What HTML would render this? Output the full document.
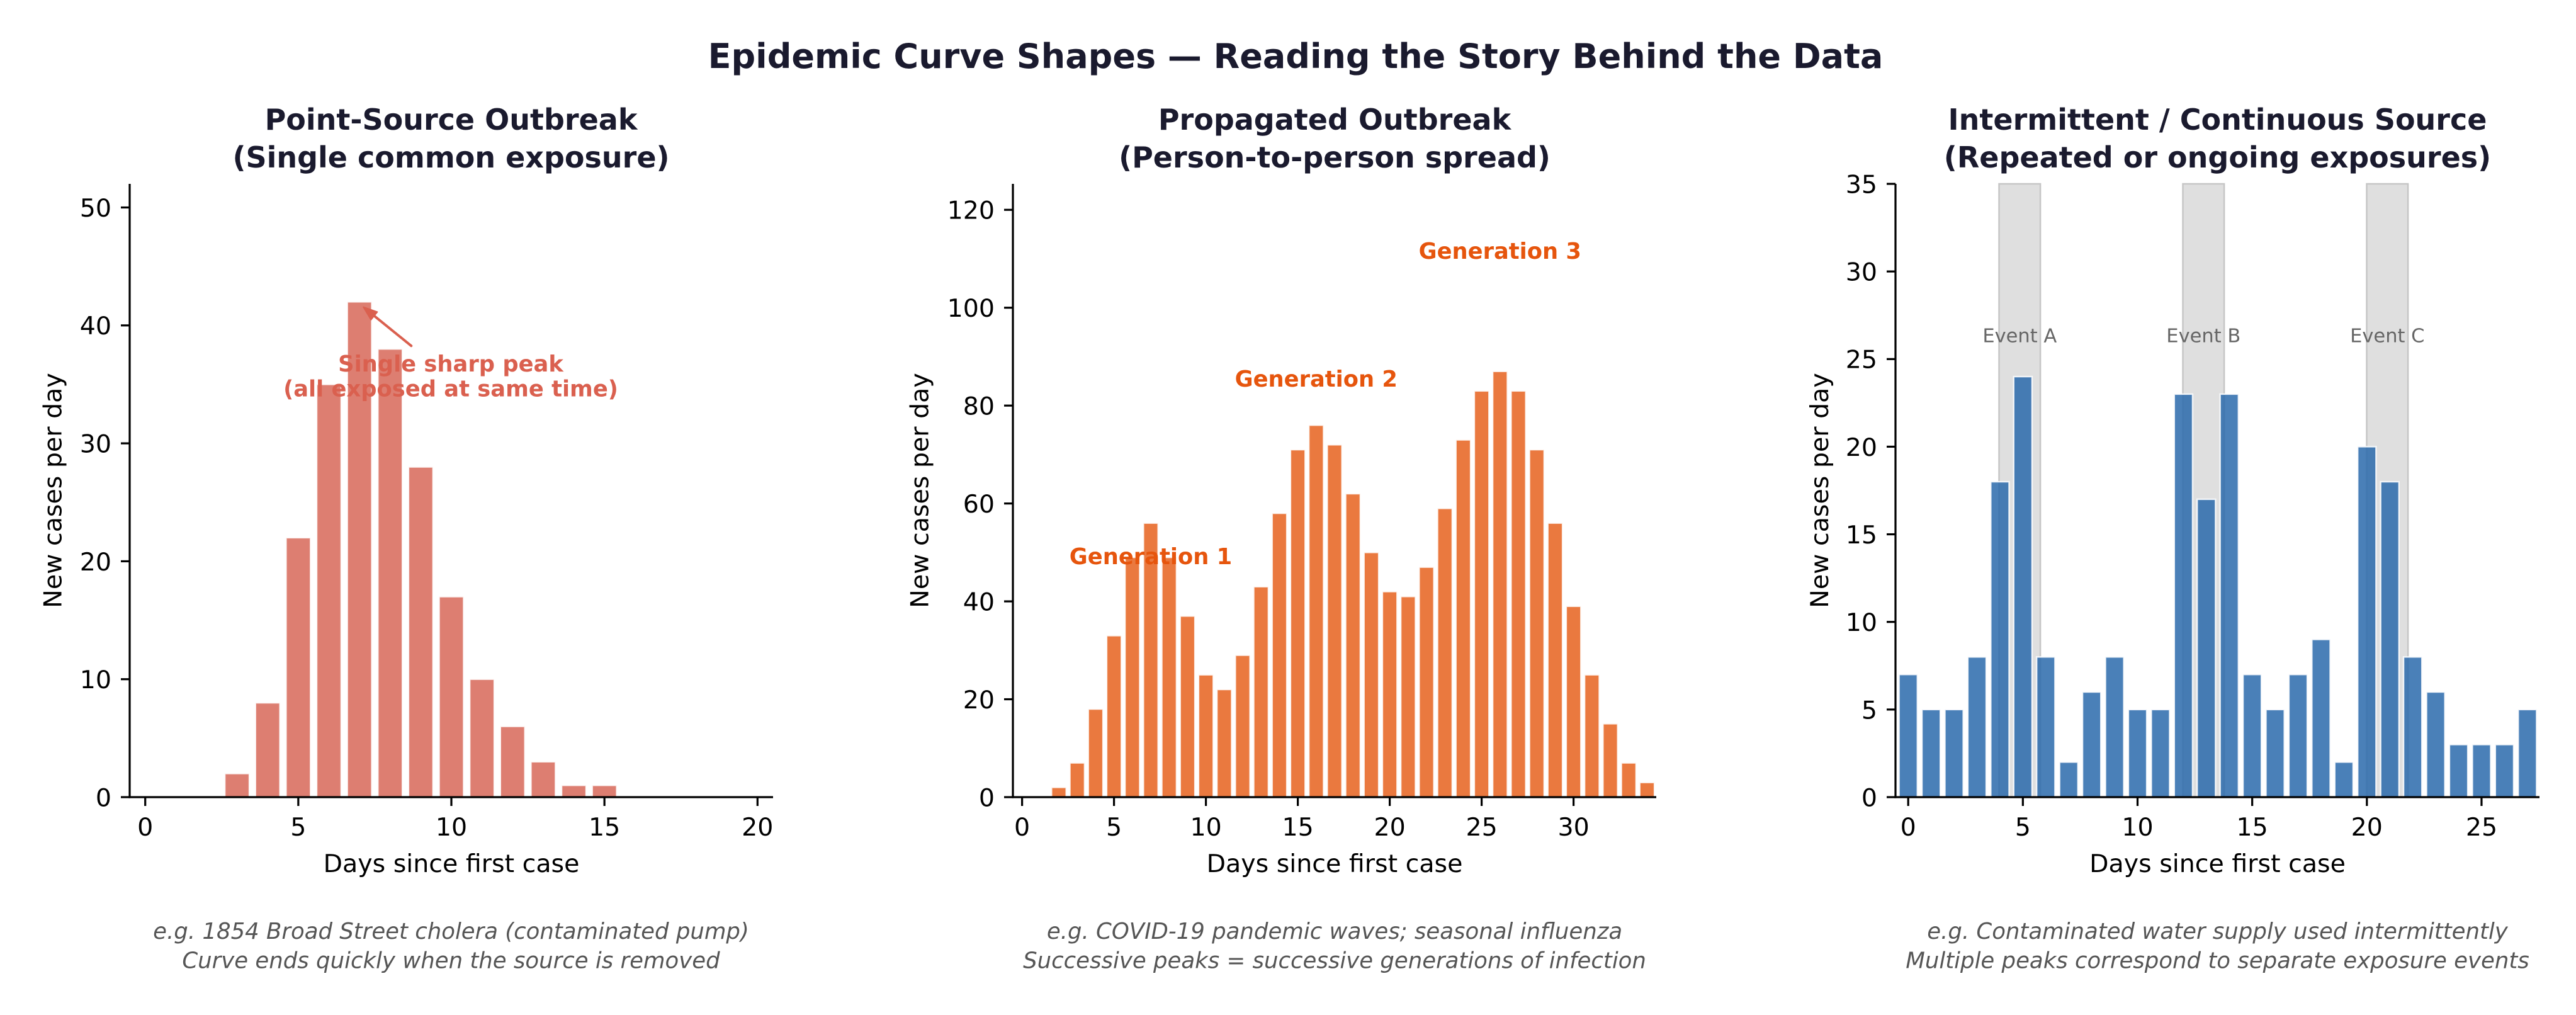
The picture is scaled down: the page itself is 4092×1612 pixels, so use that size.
<!DOCTYPE html>
<html>
<head>
<meta charset="utf-8">
<style>
  html, body { margin: 0; padding: 0; background: #ffffff; }
  svg { display: block; }
  text { font-family: "DejaVu Sans", "Liberation Sans", sans-serif; }
  .tick { font-size: 39.5px; fill: #000; }
  .lab { font-size: 39.5px; fill: #000; }
  .ptitle { font-size: 46px; font-weight: bold; fill: #1a1a2e; }
  .foot { font-size: 35.5px; font-style: italic; fill: #555555; }
  .ann { font-size: 35.3px; font-weight: bold; }
  .ev { font-size: 30.5px; fill: #666666; }
</style>
</head>
<body>
<svg width="4092" height="1612" viewBox="0 0 4092 1612" xmlns="http://www.w3.org/2000/svg">
  <rect x="0" y="0" width="4092" height="1612" fill="#ffffff"/>

  <!-- Main title -->
  <text x="2058" y="108" text-anchor="middle" font-size="54" font-weight="bold" fill="#1a1a2e">Epidemic Curve Shapes — Reading the Story Behind the Data</text>

  <!-- ================= Panel 1 ================= -->
  <text class="ptitle" x="716.5" y="206" text-anchor="middle">Point-Source Outbreak</text>
  <text class="ptitle" x="716.5" y="266" text-anchor="middle">(Single common exposure)</text>

  <g fill="#dd7e71" stroke="#ffffff" stroke-width="2.4" stroke-opacity="0.85">
    <rect x="357.14" y="1228.54" width="38.9" height="37.46"/>
    <rect x="405.77" y="1116.16" width="38.9" height="149.84"/>
    <rect x="454.40" y="853.94" width="38.9" height="412.06"/>
    <rect x="503.03" y="610.45" width="38.9" height="655.55"/>
    <rect x="551.66" y="479.34" width="38.9" height="786.66"/>
    <rect x="600.29" y="554.26" width="38.9" height="711.74"/>
    <rect x="648.92" y="741.56" width="38.9" height="524.44"/>
    <rect x="697.55" y="947.59" width="38.9" height="318.41"/>
    <rect x="746.18" y="1078.70" width="38.9" height="187.30"/>
    <rect x="794.81" y="1153.62" width="38.9" height="112.38"/>
    <rect x="843.44" y="1209.81" width="38.9" height="56.19"/>
    <rect x="892.07" y="1247.27" width="38.9" height="18.73"/>
    <rect x="940.70" y="1247.27" width="38.9" height="18.73"/>
  </g>

  <!-- annotation arrow -->
  <line x1="653.3" y1="549.3" x2="594.4" y2="501.6" stroke="#da604f" stroke-width="4" stroke-linecap="round"/>
  <polygon points="577.3,487.7 599.4,495.4 589.4,507.8" fill="#da604f" stroke="#da604f" stroke-width="2" stroke-linejoin="round"/>
  <text class="ann" x="716" y="590" text-anchor="middle" fill="#da604f">Single sharp peak</text>
  <text class="ann" x="716" y="629.5" text-anchor="middle" fill="#da604f">(all exposed at same time)</text>

  <!-- axes -->
  <g stroke="#000" stroke-width="3.2" fill="none">
    <line x1="206" y1="292" x2="206" y2="1267.6"/>
    <line x1="204.4" y1="1266" x2="1228" y2="1266"/>
    <!-- y ticks -->
    <line x1="192" y1="1266" x2="206" y2="1266"/>
    <line x1="192" y1="1078.7" x2="206" y2="1078.7"/>
    <line x1="192" y1="891.4" x2="206" y2="891.4"/>
    <line x1="192" y1="704.1" x2="206" y2="704.1"/>
    <line x1="192" y1="516.8" x2="206" y2="516.8"/>
    <line x1="192" y1="329.5" x2="206" y2="329.5"/>
    <!-- x ticks -->
    <line x1="230.7" y1="1266" x2="230.7" y2="1280"/>
    <line x1="473.85" y1="1266" x2="473.85" y2="1280"/>
    <line x1="717" y1="1266" x2="717" y2="1280"/>
    <line x1="960.15" y1="1266" x2="960.15" y2="1280"/>
    <line x1="1203.3" y1="1266" x2="1203.3" y2="1280"/>
  </g>
  <g class="tick" text-anchor="end">
    <text x="177" y="1280.4">0</text>
    <text x="177" y="1093.1">10</text>
    <text x="177" y="905.8">20</text>
    <text x="177" y="718.5">30</text>
    <text x="177" y="531.2">40</text>
    <text x="177" y="343.9">50</text>
  </g>
  <g class="tick" text-anchor="middle">
    <text x="230.7" y="1327">0</text>
    <text x="473.85" y="1327">5</text>
    <text x="717" y="1327">10</text>
    <text x="960.15" y="1327">15</text>
    <text x="1203.3" y="1327">20</text>
  </g>
  <text class="lab" x="717" y="1385" text-anchor="middle">Days since first case</text>
  <text class="lab" transform="translate(97.5,779) rotate(-90)" text-anchor="middle">New cases per day</text>

  <text class="foot" x="716.5" y="1491" text-anchor="middle">e.g. 1854 Broad Street cholera (contaminated pump)</text>
  <text class="foot" x="716.5" y="1537.5" text-anchor="middle">Curve ends quickly when the source is removed</text>

  <!-- ================= Panel 2 ================= -->
  <text class="ptitle" x="2120" y="206" text-anchor="middle">Propagated Outbreak</text>
  <text class="ptitle" x="2120" y="266" text-anchor="middle">(Person-to-person spread)</text>

  <g fill="#ea793f" stroke="#ffffff" stroke-width="2.4" stroke-opacity="0.85">
    <rect x="1670.32" y="1250.45" width="23.36" height="15.55"/>
    <rect x="1699.52" y="1211.59" width="23.36" height="54.41"/>
    <rect x="1728.72" y="1126.09" width="23.36" height="139.91"/>
    <rect x="1757.92" y="1009.49" width="23.36" height="256.51"/>
    <rect x="1787.12" y="885.12" width="23.36" height="380.88"/>
    <rect x="1816.32" y="830.71" width="23.36" height="435.29"/>
    <rect x="1845.52" y="885.12" width="23.36" height="380.88"/>
    <rect x="1874.72" y="978.40" width="23.36" height="287.60"/>
    <rect x="1903.92" y="1071.67" width="23.36" height="194.33"/>
    <rect x="1933.12" y="1094.99" width="23.36" height="171.01"/>
    <rect x="1962.32" y="1040.58" width="23.36" height="225.42"/>
    <rect x="1991.52" y="931.76" width="23.36" height="334.24"/>
    <rect x="2020.72" y="815.17" width="23.36" height="450.83"/>
    <rect x="2049.92" y="714.12" width="23.36" height="551.88"/>
    <rect x="2079.12" y="675.25" width="23.36" height="590.75"/>
    <rect x="2108.32" y="706.34" width="23.36" height="559.66"/>
    <rect x="2137.52" y="784.07" width="23.36" height="481.93"/>
    <rect x="2166.72" y="877.35" width="23.36" height="388.65"/>
    <rect x="2195.92" y="939.53" width="23.36" height="326.47"/>
    <rect x="2225.12" y="947.31" width="23.36" height="318.69"/>
    <rect x="2254.32" y="900.67" width="23.36" height="365.33"/>
    <rect x="2283.52" y="807.39" width="23.36" height="458.61"/>
    <rect x="2312.72" y="698.57" width="23.36" height="567.43"/>
    <rect x="2341.92" y="620.84" width="23.36" height="645.16"/>
    <rect x="2371.12" y="589.75" width="23.36" height="676.25"/>
    <rect x="2400.32" y="620.84" width="23.36" height="645.16"/>
    <rect x="2429.52" y="714.12" width="23.36" height="551.88"/>
    <rect x="2458.72" y="830.71" width="23.36" height="435.29"/>
    <rect x="2487.92" y="962.85" width="23.36" height="303.15"/>
    <rect x="2517.12" y="1071.67" width="23.36" height="194.33"/>
    <rect x="2546.32" y="1149.40" width="23.36" height="116.60"/>
    <rect x="2575.52" y="1211.59" width="23.36" height="54.41"/>
    <rect x="2604.72" y="1242.68" width="23.36" height="23.32"/>
  </g>

  <g class="ann" fill="#e6550d" text-anchor="middle">
    <text x="1828" y="896">Generation 1</text>
    <text x="2090.8" y="614">Generation 2</text>
    <text x="2382.8" y="411">Generation 3</text>
  </g>

  <g stroke="#000" stroke-width="3.2" fill="none">
    <line x1="1609" y1="292" x2="1609" y2="1267.6"/>
    <line x1="1607.4" y1="1266" x2="2631" y2="1266"/>
    <line x1="1595" y1="1266" x2="1609" y2="1266"/>
    <line x1="1595" y1="1110.54" x2="1609" y2="1110.54"/>
    <line x1="1595" y1="955.08" x2="1609" y2="955.08"/>
    <line x1="1595" y1="799.62" x2="1609" y2="799.62"/>
    <line x1="1595" y1="644.16" x2="1609" y2="644.16"/>
    <line x1="1595" y1="488.7" x2="1609" y2="488.7"/>
    <line x1="1595" y1="333.24" x2="1609" y2="333.24"/>
    <line x1="1623.6" y1="1266" x2="1623.6" y2="1280"/>
    <line x1="1769.6" y1="1266" x2="1769.6" y2="1280"/>
    <line x1="1915.6" y1="1266" x2="1915.6" y2="1280"/>
    <line x1="2061.6" y1="1266" x2="2061.6" y2="1280"/>
    <line x1="2207.6" y1="1266" x2="2207.6" y2="1280"/>
    <line x1="2353.6" y1="1266" x2="2353.6" y2="1280"/>
    <line x1="2499.6" y1="1266" x2="2499.6" y2="1280"/>
  </g>
  <g class="tick" text-anchor="end">
    <text x="1580" y="1280.4">0</text>
    <text x="1580" y="1124.94">20</text>
    <text x="1580" y="969.48">40</text>
    <text x="1580" y="814.02">60</text>
    <text x="1580" y="658.56">80</text>
    <text x="1580" y="503.1">100</text>
    <text x="1580" y="347.64">120</text>
  </g>
  <g class="tick" text-anchor="middle">
    <text x="1623.6" y="1327">0</text>
    <text x="1769.6" y="1327">5</text>
    <text x="1915.6" y="1327">10</text>
    <text x="2061.6" y="1327">15</text>
    <text x="2207.6" y="1327">20</text>
    <text x="2353.6" y="1327">25</text>
    <text x="2499.6" y="1327">30</text>
  </g>
  <text class="lab" x="2120" y="1385" text-anchor="middle">Days since first case</text>
  <text class="lab" transform="translate(1474.5,779) rotate(-90)" text-anchor="middle">New cases per day</text>

  <text class="foot" x="2120" y="1491" text-anchor="middle">e.g. COVID-19 pandemic waves; seasonal influenza</text>
  <text class="foot" x="2120" y="1537.5" text-anchor="middle">Successive peaks = successive generations of infection</text>

  <!-- ================= Panel 3 ================= -->
  <text class="ptitle" x="3522.5" y="206" text-anchor="middle">Intermittent / Continuous Source</text>
  <text class="ptitle" x="3522.5" y="266" text-anchor="middle">(Repeated or ongoing exposures)</text>

  <!-- exposure spans -->
  <g fill="#dfdfdf" stroke="#c6c6c6" stroke-width="2.5">
    <rect x="3175.5" y="292" width="65.6" height="974"/>
    <rect x="3467.5" y="292" width="65.6" height="974"/>
    <rect x="3759.5" y="292" width="65.6" height="974"/>
  </g>
  <g class="ev" text-anchor="middle">
    <text x="3208.3" y="543.3">Event A</text>
    <text x="3500.3" y="543.3">Event B</text>
    <text x="3792.3" y="543.3">Event C</text>
  </g>

  <g fill="#2a6aab" fill-opacity="0.85" stroke="#ffffff" stroke-width="2.4" stroke-opacity="0.85">
    <rect x="3016.63" y="1071.20" width="29.14" height="194.80"/>
    <rect x="3053.06" y="1126.86" width="29.14" height="139.14"/>
    <rect x="3089.49" y="1126.86" width="29.14" height="139.14"/>
    <rect x="3125.92" y="1043.37" width="29.14" height="222.63"/>
    <rect x="3162.35" y="765.08" width="29.14" height="500.92"/>
    <rect x="3198.78" y="598.11" width="29.14" height="667.89"/>
    <rect x="3235.21" y="1043.37" width="29.14" height="222.63"/>
    <rect x="3271.64" y="1210.34" width="29.14" height="55.66"/>
    <rect x="3308.07" y="1099.03" width="29.14" height="166.97"/>
    <rect x="3344.50" y="1043.37" width="29.14" height="222.63"/>
    <rect x="3380.93" y="1126.86" width="29.14" height="139.14"/>
    <rect x="3417.36" y="1126.86" width="29.14" height="139.14"/>
    <rect x="3453.79" y="625.94" width="29.14" height="640.06"/>
    <rect x="3490.22" y="792.91" width="29.14" height="473.09"/>
    <rect x="3526.65" y="625.94" width="29.14" height="640.06"/>
    <rect x="3563.08" y="1071.20" width="29.14" height="194.80"/>
    <rect x="3599.51" y="1126.86" width="29.14" height="139.14"/>
    <rect x="3635.94" y="1071.20" width="29.14" height="194.80"/>
    <rect x="3672.37" y="1015.54" width="29.14" height="250.46"/>
    <rect x="3708.80" y="1210.34" width="29.14" height="55.66"/>
    <rect x="3745.23" y="709.43" width="29.14" height="556.57"/>
    <rect x="3781.66" y="765.08" width="29.14" height="500.92"/>
    <rect x="3818.09" y="1043.37" width="29.14" height="222.63"/>
    <rect x="3854.52" y="1099.03" width="29.14" height="166.97"/>
    <rect x="3890.95" y="1182.51" width="29.14" height="83.49"/>
    <rect x="3927.38" y="1182.51" width="29.14" height="83.49"/>
    <rect x="3963.81" y="1182.51" width="29.14" height="83.49"/>
    <rect x="4000.24" y="1126.86" width="29.14" height="139.14"/>
  </g>

  <g stroke="#000" stroke-width="3.2" fill="none">
    <line x1="3011" y1="292" x2="3011" y2="1267.6"/>
    <line x1="3009.4" y1="1266" x2="4034" y2="1266"/>
    <line x1="2997" y1="1266" x2="3011" y2="1266"/>
    <line x1="2997" y1="1126.86" x2="3011" y2="1126.86"/>
    <line x1="2997" y1="987.71" x2="3011" y2="987.71"/>
    <line x1="2997" y1="848.57" x2="3011" y2="848.57"/>
    <line x1="2997" y1="709.43" x2="3011" y2="709.43"/>
    <line x1="2997" y1="570.29" x2="3011" y2="570.29"/>
    <line x1="2997" y1="431.14" x2="3011" y2="431.14"/>
    <line x1="2997" y1="292" x2="3011" y2="292"/>
    <line x1="3031.2" y1="1266" x2="3031.2" y2="1280"/>
    <line x1="3213.35" y1="1266" x2="3213.35" y2="1280"/>
    <line x1="3395.5" y1="1266" x2="3395.5" y2="1280"/>
    <line x1="3577.65" y1="1266" x2="3577.65" y2="1280"/>
    <line x1="3759.8" y1="1266" x2="3759.8" y2="1280"/>
    <line x1="3941.95" y1="1266" x2="3941.95" y2="1280"/>
  </g>
  <g class="tick" text-anchor="end">
    <text x="2982" y="1280.4">0</text>
    <text x="2982" y="1141.26">5</text>
    <text x="2982" y="1002.11">10</text>
    <text x="2982" y="862.97">15</text>
    <text x="2982" y="723.83">20</text>
    <text x="2982" y="584.69">25</text>
    <text x="2982" y="445.54">30</text>
    <text x="2982" y="306.4">35</text>
  </g>
  <g class="tick" text-anchor="middle">
    <text x="3031.2" y="1327">0</text>
    <text x="3213.35" y="1327">5</text>
    <text x="3395.5" y="1327">10</text>
    <text x="3577.65" y="1327">15</text>
    <text x="3759.8" y="1327">20</text>
    <text x="3941.95" y="1327">25</text>
  </g>
  <text class="lab" x="3522.5" y="1385" text-anchor="middle">Days since first case</text>
  <text class="lab" transform="translate(2904,779) rotate(-90)" text-anchor="middle">New cases per day</text>

  <text class="foot" x="3522.5" y="1491" text-anchor="middle">e.g. Contaminated water supply used intermittently</text>
  <text class="foot" x="3522.5" y="1537.5" text-anchor="middle">Multiple peaks correspond to separate exposure events</text>
</svg>
</body>
</html>
